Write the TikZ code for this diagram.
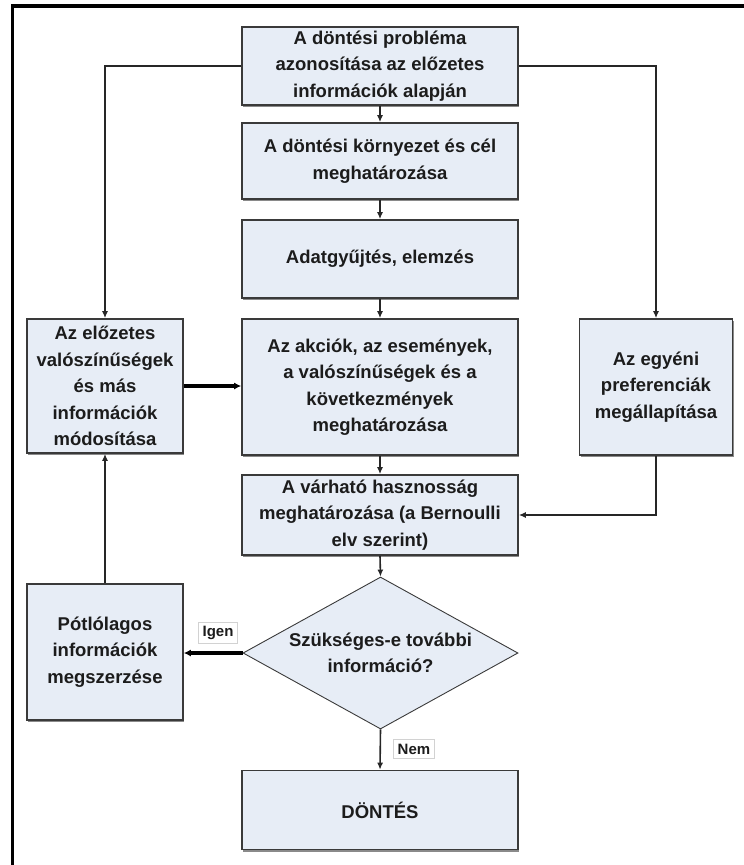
\documentclass[tikz,border=0pt]{standalone}
\usepackage{fontspec}
\setmainfont{Liberation Sans}
\usetikzlibrary{shapes.geometric,arrows.meta,shadows}
\definecolor{boxfill}{HTML}{E7EDF6}
\definecolor{boxline}{HTML}{3A3A3A}
\definecolor{shade}{HTML}{8A8A8A}
\definecolor{ink}{HTML}{1C1C1C}
\begin{document}
\begin{tikzpicture}[x=1pt,y=-1pt,
  every node/.style={font=\fontsize{18.5}{26.5}\selectfont\bfseries, text=ink, align=center},
  box/.style={rectangle, fill=boxfill, draw=boxline, line width=1.6pt, inner sep=2pt,
    drop shadow={shadow xshift=1.2pt, shadow yshift=-2.4pt, fill=shade, opacity=1}},
  decision/.style={diamond, shape aspect=1.8, fill=boxfill, draw=boxline, line width=0.9pt, inner sep=0pt},
  tag/.style={rectangle, fill=white, draw=gray!35, line width=0.8pt, inner sep=4pt,
    font=\fontsize{15}{17}\selectfont\bfseries},
  conn/.style={draw=black!85, line width=1.6pt, -{Latex[length=7pt,width=6pt]}},
  heavy/.style={draw=black, line width=3.2pt, -{Latex[length=7pt,width=7pt]}}
]
\useasboundingbox (0,0) rectangle (744,865);
% outer frame (only the left and top sides fall on the page)
\draw[line width=3.5pt, black] (12.5,865) -- (12.5,6) -- (744,6);

% main column
\node[box, minimum width=276pt, minimum height=78pt] (b1) at (380,66)
  {A döntési probléma\\azonosítása az előzetes\\információk alapján};
\node[box, minimum width=276pt, minimum height=76pt] (b2) at (380,161)
  {A döntési környezet és cél\\meghatározása};
\node[box, minimum width=276pt, minimum height=78pt] (b3) at (380,259)
  {Adatgyűjtés, elemzés};
\node[box, minimum width=276pt, minimum height=136pt] (b4) at (380,387)
  {Az akciók, az események,\\a valószínűségek és a\\következmények\\meghatározása};
\node[box, minimum width=276pt, minimum height=80pt] (b7) at (380,515)
  {A várható hasznosság\\meghatározása (a Bernoulli\\elv szerint)};
\node[decision, minimum width=275pt, minimum height=152pt] (dq) at (380.5,653)
  {Szükséges-e további\\információ?};
\node[box, minimum width=276pt, minimum height=79pt] (b9) at (380,810)
  {DÖNTÉS};

% side columns
\node[box, minimum width=156pt, minimum height=134pt] (b5) at (105,386)
  {Az előzetes\\valószínűségek\\és más\\információk\\módosítása};
\node[box, minimum width=153pt, minimum height=136pt] (b6) at (656,387)
  {Az egyéni\\preferenciák\\megállapítása};
\node[box, minimum width=156pt, minimum height=136pt] (b8) at (105,652)
  {Pótlólagos\\információk\\megszerzése};

% connectors
\draw[conn] (b1.south) -- (b2.north);
\draw[conn] (b2.south) -- (b3.north);
\draw[conn] (b3.south) -- (b4.north);
\draw[conn] (b4.south) -- (b7.north);
\draw[conn] (b7.south) -- (dq.north);
\draw[conn] (dq.south) -- (b9.north);
\draw[conn] (b1.west) -| (b5.north);
\draw[conn] (b1.east) -| (b6.north);
\draw[conn] (b6.south) |- (b7.east);
\draw[conn] (b8.north) -- (b5.south);
\draw[heavy] (b5.east) -- (b5.east -| b4.west);
\draw[heavy] (dq.west) -- (dq.west -| b8.east);

% branch labels
\node[tag] (yes) at (218,633) {Igen};
\node[tag] (no) at (414,749) {Nem};
\end{tikzpicture}
\end{document}
